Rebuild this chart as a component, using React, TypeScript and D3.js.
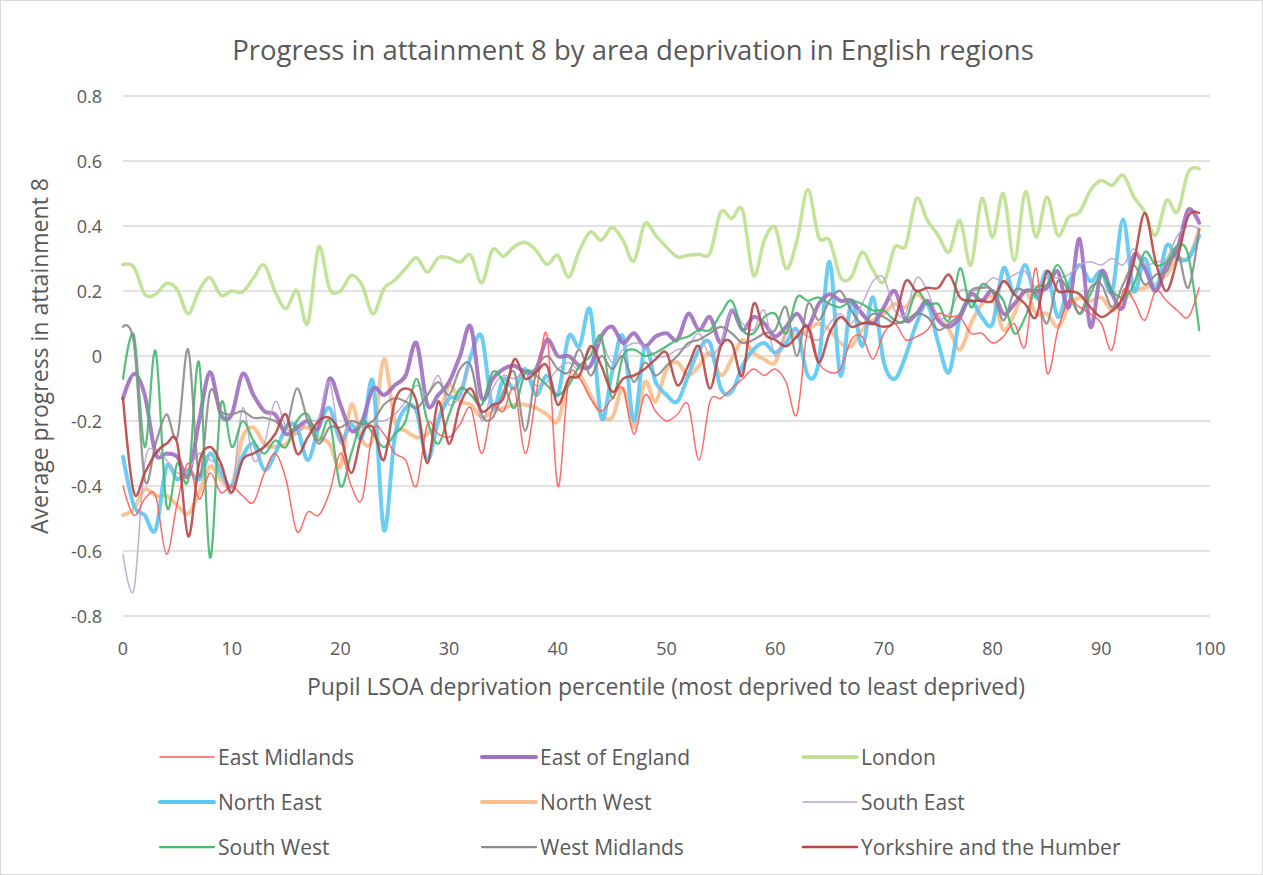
import React from "react";
import * as d3 from "d3";

const xTicks = [0, 10, 20, 30, 40, 50, 60, 70, 80, 90, 100];
const yTicks = [-0.8, -0.6, -0.4, -0.2, 0, 0.2, 0.4, 0.6, 0.8];

const eastMidlands = [-0.4,-0.49,-0.44,-0.43,-0.61,-0.45,-0.33,-0.44,-0.36,-0.42,-0.4,-0.43,-0.45,-0.36,-0.3,-0.38,-0.54,-0.48,-0.49,-0.42,-0.3,-0.4,-0.44,-0.23,-0.24,-0.3,-0.32,-0.4,-0.21,-0.24,-0.25,-0.21,-0.16,-0.3,-0.16,-0.17,-0.1,-0.3,-0.12,0.065,-0.4,-0.07,-0.07,-0.13,-0.17,-0.13,-0.1,-0.24,-0.12,-0.17,-0.2,-0.18,-0.15,-0.32,-0.14,-0.13,-0.1,-0.07,-0.04,-0.06,-0.04,-0.08,-0.18,0.08,-0.02,-0.05,-0.04,0.05,0.06,-0.01,0.07,0.1,0.05,0.06,0.08,0.13,0.12,0.12,0.07,0.07,0.04,0.06,0.1,0.03,0.27,-0.05,0.08,0.17,0.15,0.13,0.1,0.02,0.2,0.17,0.11,0.2,0.17,0.14,0.12,0.21];
const eastOfEngland = [-0.13,-0.055,-0.12,-0.3,-0.3,-0.31,-0.37,-0.2,-0.05,-0.18,-0.18,-0.055,-0.12,-0.17,-0.18,-0.24,-0.22,-0.2,-0.22,-0.07,-0.15,-0.23,-0.2,-0.1,-0.12,-0.09,-0.06,0.04,-0.15,-0.12,-0.08,0.0,0.09,-0.13,-0.07,-0.04,-0.03,-0.05,-0.04,0.05,0.0,0.0,-0.03,-0.03,0.06,0.09,0.04,0.07,0.03,0.06,0.07,0.05,0.13,0.08,0.12,0.04,0.14,0.08,0.12,0.1,0.06,0.09,0.13,0.09,0.16,0.19,0.17,0.17,0.13,0.1,0.15,0.2,0.11,0.13,0.17,0.11,0.09,0.12,0.19,0.17,0.2,0.13,0.16,0.2,0.2,0.21,0.26,0.15,0.36,0.09,0.26,0.19,0.15,0.31,0.27,0.2,0.28,0.33,0.45,0.41];
const london = [0.281,0.274,0.19,0.19,0.223,0.204,0.13,0.202,0.241,0.187,0.2,0.197,0.24,0.28,0.197,0.146,0.202,0.1,0.335,0.207,0.2,0.248,0.217,0.13,0.207,0.233,0.269,0.302,0.258,0.302,0.302,0.289,0.31,0.225,0.327,0.307,0.337,0.35,0.325,0.282,0.31,0.243,0.325,0.382,0.356,0.395,0.356,0.292,0.407,0.371,0.335,0.305,0.31,0.313,0.317,0.443,0.423,0.448,0.248,0.356,0.395,0.269,0.356,0.512,0.366,0.356,0.243,0.243,0.32,0.264,0.228,0.335,0.34,0.484,0.417,0.371,0.32,0.417,0.279,0.484,0.366,0.5,0.294,0.505,0.366,0.489,0.371,0.428,0.443,0.51,0.54,0.525,0.556,0.489,0.443,0.371,0.479,0.443,0.566,0.576];
const northEast = [-0.31,-0.46,-0.49,-0.535,-0.34,-0.38,-0.35,-0.38,-0.3,-0.36,-0.4,-0.31,-0.27,-0.35,-0.3,-0.22,-0.22,-0.32,-0.22,-0.16,-0.26,-0.21,-0.25,-0.08,-0.535,-0.25,-0.16,-0.17,-0.32,-0.2,-0.13,-0.12,0.0,0.06,-0.16,-0.07,-0.1,-0.04,-0.12,-0.06,-0.12,0.06,0.03,0.14,-0.19,-0.05,0.06,-0.2,0.03,-0.08,-0.12,-0.14,-0.06,0.02,0.04,-0.1,-0.11,-0.03,0.02,0.04,0.01,0.04,0.08,-0.06,-0.02,0.29,-0.06,0.17,0.03,0.18,-0.02,-0.07,0.0,0.1,0.16,0.04,-0.05,0.12,0.17,0.12,0.1,0.27,0.19,0.28,0.18,0.26,0.12,0.22,0.28,0.23,0.26,0.2,0.42,0.2,0.3,0.2,0.34,0.3,0.3,0.37];
const northWest = [-0.49,-0.47,-0.41,-0.43,-0.43,-0.46,-0.485,-0.42,-0.34,-0.38,-0.4,-0.25,-0.22,-0.27,-0.28,-0.27,-0.23,-0.22,-0.25,-0.27,-0.34,-0.15,-0.26,-0.25,-0.01,-0.2,-0.23,-0.25,-0.24,-0.2,-0.09,-0.14,-0.15,-0.19,-0.17,-0.16,-0.15,-0.15,-0.16,-0.18,-0.2,-0.08,-0.06,-0.12,-0.18,-0.19,-0.1,-0.22,-0.08,-0.14,-0.04,-0.02,-0.06,-0.03,0.01,-0.06,-0.01,0.05,0.01,-0.01,-0.02,0.07,0.06,0.08,0.1,0.08,0.04,0.03,0.08,0.11,0.13,0.16,0.15,0.19,0.16,0.12,0.08,0.02,0.1,0.16,0.18,0.08,0.13,0.2,0.13,0.13,0.09,0.15,0.18,0.17,0.18,0.14,0.17,0.2,0.21,0.22,0.25,0.3,0.3,0.39];
const southEast = [-0.61,-0.72,-0.33,-0.29,-0.32,-0.36,-0.35,-0.3,-0.32,-0.34,-0.42,-0.16,-0.32,-0.27,-0.14,-0.22,-0.24,-0.2,-0.19,-0.08,-0.27,-0.2,-0.22,-0.2,-0.2,-0.18,-0.14,-0.09,-0.12,-0.06,-0.15,-0.12,-0.03,-0.2,-0.1,-0.06,-0.07,-0.05,-0.09,-0.08,-0.04,-0.02,-0.04,0.02,0.04,-0.02,0.02,0.04,0.03,0.0,0.0,0.02,0.03,0.07,0.0,0.04,0.14,0.1,0.08,0.14,0.0,0.07,0.08,0.06,0.05,0.1,0.13,0.1,0.16,0.23,0.24,0.14,0.13,0.24,0.2,0.12,0.13,0.2,0.2,0.21,0.24,0.23,0.25,0.26,0.21,0.24,0.24,0.25,0.28,0.29,0.28,0.3,0.28,0.33,0.28,0.29,0.3,0.37,0.4,0.39];
const southWest = [-0.07,0.065,-0.28,0.015,-0.46,-0.33,-0.38,-0.02,-0.62,-0.15,-0.28,-0.2,-0.26,-0.3,-0.26,-0.28,-0.2,-0.18,-0.26,-0.2,-0.4,-0.3,-0.2,-0.24,-0.28,-0.24,-0.2,-0.07,-0.2,-0.27,-0.18,-0.1,-0.12,-0.15,-0.05,-0.08,-0.16,-0.05,-0.06,-0.09,-0.12,-0.09,-0.03,0.0,0.06,-0.13,0.0,0.02,0.0,0.01,0.03,0.05,0.06,0.08,0.08,0.13,0.17,0.08,0.07,0.12,0.13,0.07,0.18,0.17,0.18,0.16,0.15,0.17,0.16,0.14,0.14,0.11,0.11,0.2,0.16,0.16,0.11,0.27,0.15,0.22,0.2,0.17,0.07,0.12,0.21,0.22,0.28,0.21,0.13,0.19,0.25,0.2,0.18,0.22,0.32,0.28,0.29,0.34,0.31,0.08];
const westMidlands = [0.09,0.04,-0.38,-0.27,-0.18,-0.25,0.02,-0.37,-0.11,-0.17,-0.18,-0.17,-0.19,-0.19,-0.2,-0.22,-0.1,-0.2,-0.27,-0.22,-0.22,-0.2,-0.21,-0.2,-0.15,-0.13,-0.14,-0.16,-0.12,-0.08,-0.12,-0.04,-0.03,-0.18,-0.19,-0.11,-0.05,-0.23,-0.05,0.0,-0.04,-0.05,0.02,-0.06,0.0,-0.04,0.0,-0.08,-0.02,-0.06,-0.03,0.0,0.04,0.05,0.07,0.09,0.07,0.04,0.05,0.07,0.08,0.15,0.0,0.16,0.11,0.17,0.2,0.14,0.1,0.13,0.12,0.1,0.11,0.13,0.12,0.08,0.1,0.13,0.2,0.21,0.2,0.11,0.2,0.2,0.19,0.1,0.23,0.2,0.13,0.21,0.22,0.15,0.22,0.28,0.22,0.25,0.26,0.32,0.21,0.39];
const yorkshire = [-0.13,-0.42,-0.36,-0.3,-0.27,-0.27,-0.555,-0.33,-0.28,-0.33,-0.42,-0.32,-0.3,-0.28,-0.24,-0.18,-0.3,-0.25,-0.2,-0.19,-0.24,-0.36,-0.24,-0.22,-0.32,-0.14,-0.1,-0.14,-0.33,-0.14,-0.27,-0.15,-0.1,-0.17,-0.15,-0.13,-0.01,-0.07,-0.05,-0.03,-0.15,-0.07,-0.06,0.03,-0.03,-0.11,-0.07,-0.06,-0.04,-0.01,0.01,-0.09,-0.03,0.03,-0.1,0.03,0.04,-0.06,0.16,0.07,0.05,0.03,0.06,0.09,-0.02,0.07,0.12,0.09,0.1,0.1,0.09,0.11,0.23,0.2,0.21,0.21,0.25,0.18,0.17,0.17,0.17,0.23,0.19,0.16,0.12,0.26,0.2,0.2,0.19,0.15,0.12,0.14,0.18,0.29,0.44,0.29,0.2,0.3,0.43,0.44];

const seriesNames = ["East Midlands","East of England","London","North East","North West","South East","South West","West Midlands","Yorkshire and the Humber"];
const seriesValues = [eastMidlands, eastOfEngland, london, northEast, northWest, southEast, southWest, westMidlands, yorkshire];
const seriesColors = ["#FF5A5A","#9F6FC0","#BCE08E","#5BC8F3","#F8BF8D","#BCA3D2","#45B86E","#8C8C8C","#B84646"];
const seriesWidths = [1.5, 4, 3.5, 4, 4, 1.5, 2.25, 2.25, 2.5];
// drawing order (bottom to top)
const drawOrder = [2, 4, 3, 1, 5, 6, 7, 0, 8];

export default function App() {
  const W = 1263, H = 875;
  const x = d3.scaleLinear().domain([0, 100]).range([123, 1210]);
  const y = d3.scaleLinear().domain([-0.8, 0.8]).range([616, 96]);
  const line = d3.line<number>()
    .x((_, i) => x(i))
    .y((d) => y(d))
    .curve(d3.curveCatmullRom.alpha(0));
  const font = "'Open Sans', 'Liberation Sans', sans-serif";
  const txt = "#595959";
  const legCols = [160, 482, 803];
  const legRows = [757, 802, 847];
  const fmt = (t: number) => (t === 0 ? "0" : (t < 0 ? "-" : "") + Math.abs(t).toFixed(1));
  return (
    <svg width={W} height={H} style={{ position: "absolute", left: 0, top: 0, background: "#fff" }} fontFamily={font}>
      <rect x={0.5} y={0.5} width={W - 1} height={H - 1} fill="#fff" stroke="#D9D9D9" />
      <text x={633} y={60} textAnchor="middle" fontSize={27.5} fill={txt}>
        Progress in attainment 8 by area deprivation in English regions
      </text>
      {yTicks.map((t) => (
        <g key={t}>
          <line x1={123} x2={1210} y1={y(t)} y2={y(t)} stroke="#D9D9D9" strokeWidth={1.3} />
          <text x={102} y={y(t) + 6.5} textAnchor="end" fontSize={18} fill={txt}>
            {fmt(t)}
          </text>
        </g>
      ))}
      {xTicks.map((t) => (
        <text key={t} x={x(t)} y={655} textAnchor="middle" fontSize={18} fill={txt}>{t}</text>
      ))}
      <text x={666} y={695} textAnchor="middle" fontSize={23} fill={txt}>
        Pupil LSOA deprivation percentile (most deprived to least deprived)
      </text>
      <text transform={`translate(48,${y(0)}) rotate(-90)`} textAnchor="middle" fontSize={23} fill={txt}>
        Average progress in attainment 8
      </text>
      <g>
        {drawOrder.map((si) => (
          <path key={si} d={line(seriesValues[si]) || ""} fill="none" stroke={seriesColors[si]}
            strokeWidth={seriesWidths[si]} strokeOpacity={0.9} strokeLinejoin="round" strokeLinecap="round" />
        ))}
      </g>
      {seriesNames.map((n, i) => {
        const cx = legCols[i % 3];
        const cy = legRows[Math.floor(i / 3)];
        return (
          <g key={n}>
            <line x1={cx} x2={cx + 54} y1={cy} y2={cy} stroke={seriesColors[i]} strokeWidth={seriesWidths[i]} strokeLinecap="round" />
            <text x={cx + 58} y={cy + 7.5} fontSize={21} fill={txt}>{n}</text>
          </g>
        );
      })}
    </svg>
  );
}
